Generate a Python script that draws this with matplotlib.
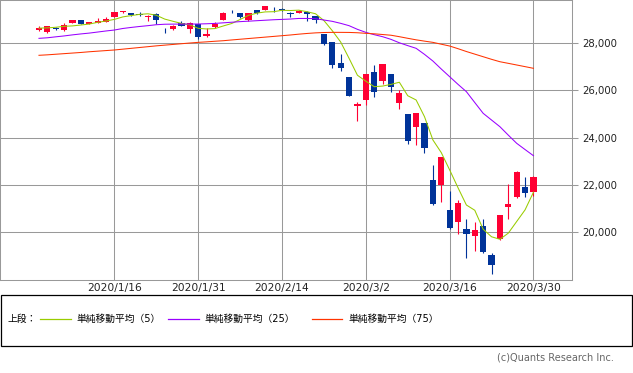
import matplotlib
matplotlib.use("Agg")
import matplotlib.pyplot as plt
from matplotlib.patches import Rectangle
from matplotlib.lines import Line2D
import numpy as np

plt.rcParams['font.family'] = ['DejaVu Sans', 'Noto Sans CJK JP']

dates = ['1/3', '1/6', '1/7', '1/8', '1/9', '1/10', '1/13', '1/14', '1/15', '1/16',
         '1/17', '1/21', '1/22', '1/23', '1/24', '1/27', '1/28', '1/29', '1/30', '1/31',
         '2/3', '2/4', '2/5', '2/6', '2/7', '2/10', '2/11', '2/12', '2/13', '2/14',
         '2/18', '2/19', '2/20', '2/21', '2/24', '2/25', '2/26', '2/27', '2/28', '3/2',
         '3/3', '3/4', '3/5', '3/6', '3/9', '3/10', '3/11', '3/12', '3/13', '3/16',
         '3/17', '3/18', '3/19', '3/20', '3/23', '3/24', '3/25', '3/26', '3/27', '3/30']
tick_dates = ['1/16', '1/31', '2/14', '3/2', '3/16', '3/30']
tick_labels = ['2020/1/16', '2020/1/31', '2020/2/14', '2020/3/2', '2020/3/16', '2020/3/30']

opens = [28553, 28465, 28639, 28556, 28851, 28974, 28823, 28860, 28900, 29100,
         29313, 29260, 29240, 29090, 29240, 28560, 28590, 28830, 28600, 28790,
         28290, 28660, 28982, 29395, 29286, 28980, 29390, 29406, 29436, 29440,
         29282, 29279, 29313, 29127, 28402, 28027, 27148, 26544, 25320, 25590,
         26762, 26383, 26671, 25457, 24992, 24453, 24604, 22184, 21973, 20917,
         20430, 20123, 19830, 20253, 19028, 19722, 21050, 21468, 21898, 21678]
highs = [28716, 28708, 28685, 28866, 28988, 28990, 28910, 29060, 29120, 29300,
         29373, 29290, 29300, 29200, 29290, 28640, 28770, 28930, 28880, 28813,
         28630, 28900, 29316, 29410, 29286, 29277, 29415, 29568, 29535, 29463,
         29321, 29406, 29364, 29127, 28402, 28027, 27515, 26554, 25494, 26706,
         27084, 27102, 26671, 25994, 24992, 25020, 24604, 22837, 23186, 21720,
         21356, 20531, 20440, 20531, 19121, 20737, 22019, 22595, 22327, 22378]
lows = [28500, 28418, 28565, 28522, 28844, 28800, 28790, 28840, 28880, 29090,
        29289, 29130, 29140, 28920, 28810, 28420, 28550, 28700, 28440, 28169,
        28260, 28650, 28970, 29250, 29056, 28950, 29210, 29406, 29315, 29336,
        29089, 29279, 28945, 28840, 27902, 26955, 26827, 25766, 24681, 25391,
        25706, 26286, 25943, 25226, 23706, 23690, 23328, 21154, 21285, 20116,
        19900, 18917, 19177, 19094, 18213, 19649, 20538, 21427, 21469, 21522]
closes = [28635, 28703, 28584, 28745, 28957, 28824, 28907, 28940, 29030, 29298,
          29348, 29196, 29186, 29160, 28990, 28536, 28723, 28734, 28859, 28256,
          28400, 28808, 29291, 29380, 29103, 29277, 29276, 29551, 29423, 29398,
          29232, 29348, 29220, 28992, 27961, 27081, 26958, 25767, 25409, 26703,
          25917, 27091, 26121, 25865, 23851, 25018, 23553, 21201, 23186, 20189,
          21237, 19899, 20087, 19174, 18592, 20705, 21201, 22552, 21637, 22327]

ma5 = [28630, 28642, 28666, 28707, 28725, 28763, 28803, 28875, 28932, 29000,
       29105, 29162, 29212, 29238, 29176, 29014, 28919, 28829, 28769, 28622,
       28595, 28612, 28723, 28827, 28996, 29172, 29265, 29317, 29326, 29385,
       29376, 29391, 29324, 29238, 28951, 28521, 28042, 27352, 26635, 26384,
       26151, 26178, 26248, 26340, 25769, 25589, 24882, 23898, 23362, 22629,
       21873, 21142, 20920, 20117, 19798, 19691, 19952, 20445, 20937, 21684]
ma25 = [28198, 28222, 28262, 28300, 28345, 28385, 28420, 28465, 28510, 28550,
        28615, 28660, 28700, 28735, 28775, 28795, 28800, 28802, 28803, 28805,
        28815, 28830, 28855, 28880, 28905, 28925, 28945, 28965, 28985, 29000,
        29015, 29040, 29040, 29029, 28974, 28918, 28833, 28734, 28579, 28451,
        28353, 28268, 28155, 28010, 27890, 27776, 27520, 27238, 26900, 26575,
        26250, 25940, 25480, 25024, 24740, 24457, 24100, 23754, 23490, 23230]
ma75 = [27480, 27500, 27525, 27550, 27575, 27600, 27630, 27655, 27680, 27705,
        27740, 27775, 27810, 27845, 27880, 27910, 27940, 27970, 28000, 28028,
        28050, 28075, 28098, 28130, 28160, 28190, 28220, 28250, 28280, 28310,
        28340, 28375, 28405, 28430, 28445, 28451, 28451, 28448, 28435, 28410,
        28390, 28360, 28330, 28268, 28200, 28135, 28080, 28028, 27950, 27873,
        27760, 27640, 27530, 27420, 27310, 27208, 27140, 27070, 27000, 26929]

W, H = 633, 373
fig = plt.figure(figsize=(W / 100, H / 100), dpi=100)
ax = fig.add_axes([0, 93 / H, 571.5 / W, 279.5 / H])

x = np.arange(len(dates))
o = np.array(opens, float); c = np.array(closes, float)
hi = np.array(highs, float); lo = np.array(lows, float)
up = c >= o
RED = '#ff0033'
BLUE = '#003399'
cols = [RED if u else BLUE for u in up]

ax.vlines(x, lo, hi, colors=cols, linewidth=0.8, zorder=3)
body_lo = np.minimum(o, c)
body_h = np.maximum(np.abs(c - o), 30)
ax.bar(x, body_h, bottom=body_lo, width=0.74, color=cols, linewidth=0, zorder=4)

ax.plot(x, ma5, color='#99cc00', lw=0.75, zorder=5)
ax.plot(x, ma25, color='#9900ff', lw=0.75, zorder=5)
ax.plot(x, ma75, color='#ff3300', lw=0.75, zorder=5)

ax.set_xlim(-4.65, 63.54)
ax.set_ylim(17968, 29800)

ax.set_xticks([dates.index(d) for d in tick_dates])
ax.set_xticklabels(tick_labels, fontsize=7.7, color='#222222')
ax.set_yticks([20000, 22000, 24000, 26000, 28000])
ax.set_yticklabels([f'{v:,}' for v in [20000, 22000, 24000, 26000, 28000]],
                   fontsize=7.3, color='#222222')
ax.yaxis.tick_right()
ax.tick_params(axis='y', direction='out', length=4, width=0.75, color='#999999', pad=3.5)
ax.tick_params(axis='x', length=0, pad=2.5)
ax.grid(True, color='#999999', linewidth=0.75, zorder=0)
ax.set_axisbelow(True)
for s in ax.spines.values():
    s.set_color('#999999')
    s.set_linewidth(0.75)

def fx(px):
    return px / W

def fy(py):
    return 1 - py / H

fig.add_artist(Rectangle((fx(0.5), fy(346.3)), fx(632) - fx(0.5), fy(295.3) - fy(346.3),
                         transform=fig.transFigure, fill=False, edgecolor='black', linewidth=0.9))
ly = 318.5
fig.text(fx(8), fy(ly), '上段：', fontsize=7, va='center', ha='left', color='#000000')
items = [(40, 71, 76, '#99cc00', '単純移動平均（5）'),
         (168, 199, 204, '#9900ff', '単純移動平均（25）'),
         (312, 342, 348, '#ff3300', '単純移動平均（75）')]
for x0, x1, tx, col, lab in items:
    fig.add_artist(Line2D([fx(x0), fx(x1)], [fy(ly), fy(ly)], transform=fig.transFigure,
                          color=col, linewidth=0.9))
    fig.text(fx(tx), fy(ly), lab, fontsize=7, va='center', ha='left', color='#000000')

fig.text(fx(614), fy(358), '(c)Quants Research Inc.', fontsize=7, va='center', ha='right',
         color='#666666')

fig.savefig('out.png', dpi=100)
